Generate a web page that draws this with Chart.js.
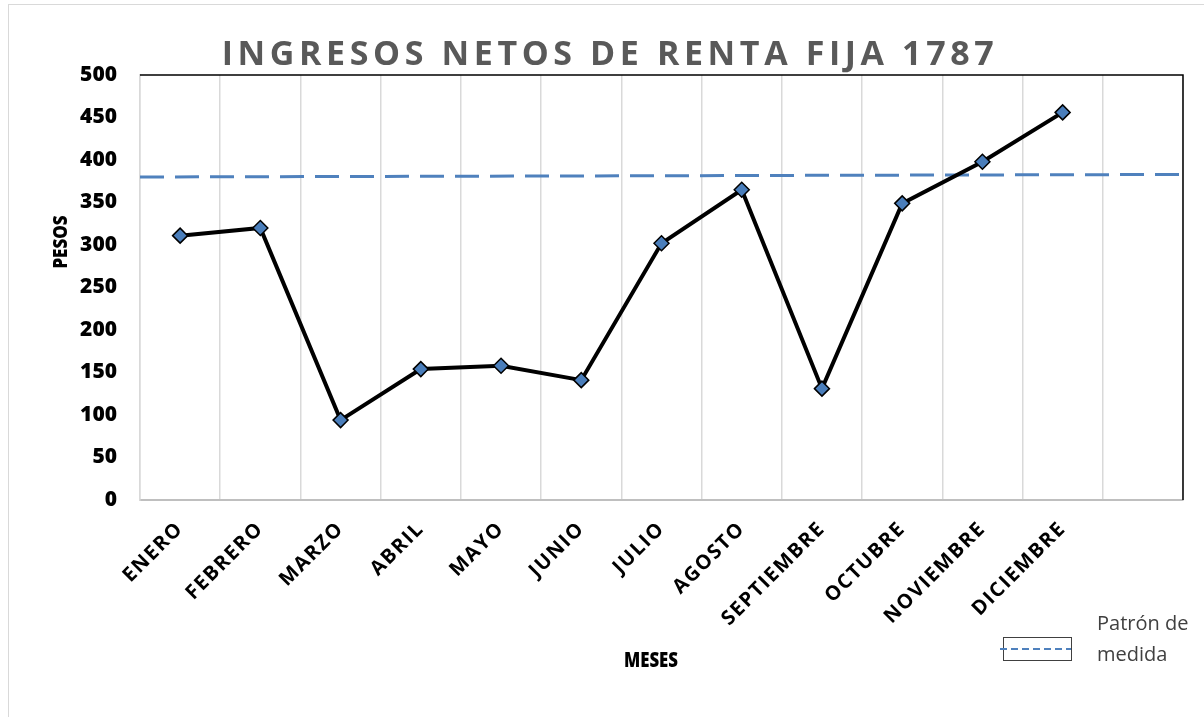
<!DOCTYPE html>
<html>
<head>
<meta charset="utf-8">
<script src="https://cdn.jsdelivr.net/npm/chart.js@4.4.0/dist/chart.umd.min.js"></script>
<style>
  html, body { margin: 0; padding: 0; background: #fff; }
  #wrap { position: absolute; left: 0; top: 0; width: 1204px; height: 717px; overflow: hidden; }
  #frame { position: absolute; left: 8px; top: 4px; width: 1220px; height: 740px; border: 1px solid #d9d9d9; box-sizing: border-box; }
  canvas { position: absolute; left: 0; top: 0; }
</style>
</head>
<body>
<div id="wrap">
  <div id="frame"></div>
  <canvas id="chart" width="1204" height="717"></canvas>
</div>
<script>
const chartTitle = "INGRESOS NETOS DE RENTA FIJA 1787";
const xTitle = "MESES";
const yTitle = "PESOS";

// 13 slots on the category axis, the last one is empty
const months = [
  "ENERO", "FEBRERO", "MARZO", "ABRIL", "MAYO", "JUNIO",
  "JULIO", "AGOSTO", "SEPTIEMBRE", "OCTUBRE", "NOVIEMBRE", "DICIEMBRE", ""
];
const ingresos = [311, 320, 94, 154, 158, 141, 302, 365, 131, 349, 398, 456];

// reference line "Patrón de medida" (runs edge to edge of the plot)
const patronLabel = "Patrón de medida";
const patronX = [0, 13];
const patronY = [380, 383];

const yMin = 0;
const yMax = 500;
const yStep = 50;

const blue = "#4a7ebb";

const decorPlugin = {
  id: "decor",
  beforeDraw(chart) {
    // month labels are spaced out a little, like the original
    const sx = chart.scales.x;
    if (!sx._spaced) {
      const orig = sx.drawLabels.bind(sx);
      sx.drawLabels = (area) => {
        chart.ctx.save();
        chart.ctx.letterSpacing = "1.6px";
        orig(area);
        chart.ctx.restore();
      };
      sx._spaced = true;
    }
  },
  afterDraw(chart) {
    const ctx = chart.ctx;
    const area = chart.chartArea;
    ctx.save();

    // top and right frame of the plot
    ctx.strokeStyle = "#000";
    ctx.lineWidth = 1.5;
    ctx.beginPath();
    ctx.moveTo(area.left, area.top);
    ctx.lineTo(area.right, area.top);
    ctx.lineTo(area.right, area.bottom);
    ctx.stroke();

    // title
    ctx.fillStyle = "#595959";
    ctx.font = 'bold 34px "Open Sans"';
    ctx.letterSpacing = "4.6px";
    ctx.textAlign = "center";
    ctx.textBaseline = "alphabetic";
    ctx.fillText(chartTitle, 610, 65);
    ctx.letterSpacing = "0px";

    // axis titles
    ctx.fillStyle = "#000";
    ctx.textAlign = "center";
    ctx.save();
    ctx.translate(651, 667);
    ctx.scale(0.8, 1);
    ctx.font = '800 21px "Open Sans"';
    ctx.fillText(xTitle, 0, 0);
    ctx.restore();

    ctx.save();
    ctx.translate(67, 242);
    ctx.rotate(-Math.PI / 2);
    ctx.scale(0.85, 1);
    ctx.font = '800 20px "Open Sans"';
    ctx.fillText(yTitle, 0, 0);
    ctx.restore();

    // legend
    const ds = chart.data.datasets[1];
    ctx.strokeStyle = "#404040";
    ctx.lineWidth = 1;
    ctx.strokeRect(1003.5, 637.5, 68, 23);
    ctx.strokeStyle = ds.borderColor;
    ctx.lineWidth = 2;
    ctx.setLineDash([7, 4]);
    ctx.beginPath();
    ctx.moveTo(1000, 649);
    ctx.lineTo(1071, 649);
    ctx.stroke();
    ctx.setLineDash([]);

    ctx.fillStyle = "#404040";
    ctx.font = '20px "Open Sans"';
    ctx.textAlign = "left";
    const words = ds.label.split(" ");
    ctx.fillText(words.slice(0, 2).join(" "), 1097, 630);
    ctx.fillText(words.slice(2).join(" "), 1097, 661);

    ctx.restore();
  },
};

new Chart(document.getElementById("chart"), {
  type: "line",
  data: {
    labels: months,
    datasets: [
      {
        label: "Ingresos",
        data: ingresos,
        borderColor: "#000",
        borderWidth: 4,
        pointStyle: "rectRot",
        pointRadius: 7.5,
        pointHoverRadius: 7.5,
        pointBackgroundColor: blue,
        pointBorderColor: "#000",
        pointBorderWidth: 1.5,
        tension: 0,
        xAxisID: "x",
        yAxisID: "y",
      },
      {
        label: patronLabel,
        data: patronX.map((x, i) => ({ x: x, y: patronY[i] })),
        borderColor: "#4f81bd",
        borderWidth: 3,
        borderDash: [24, 11],
        pointRadius: 0,
        xAxisID: "x2",
        yAxisID: "y",
      },
    ],
  },
  options: {
    responsive: false,
    animation: false,
    layout: { padding: { left: 0, top: 75, right: 21, bottom: 0 } },
    plugins: {
      legend: { display: false },
      title: { display: false },
      tooltip: { enabled: false },
    },
    scales: {
      x: {
        type: "category",
        offset: true,
        grid: { display: true, offset: true, color: "#d9d9d9", lineWidth: 1.5, drawTicks: false },
        border: { display: true, color: "#bfbfbf", width: 2 },
        ticks: {
          color: "#000",
          font: { family: "Open Sans", weight: "bold", size: 20 },
          maxRotation: 45,
          minRotation: 45,
          padding: 17,
          autoSkip: false,
        },
        afterFit: (s) => { s.height = 217; },
      },
      x2: {
        type: "linear",
        min: patronX[0],
        max: patronX[1],
        display: false,
      },
      y: {
        min: yMin,
        max: yMax,
        grid: { display: true, color: "transparent", drawTicks: false },
        border: { display: true, color: "#d9d9d9", width: 1.5 },
        ticks: {
          stepSize: yStep,
          color: "#000",
          font: { family: "Open Sans", weight: "800", size: 21 },
          padding: 23,
        },
        afterFit: (s) => { s.width = 140; },
      },
    },
  },
  plugins: [decorPlugin],
});
</script>
</body>
</html>
